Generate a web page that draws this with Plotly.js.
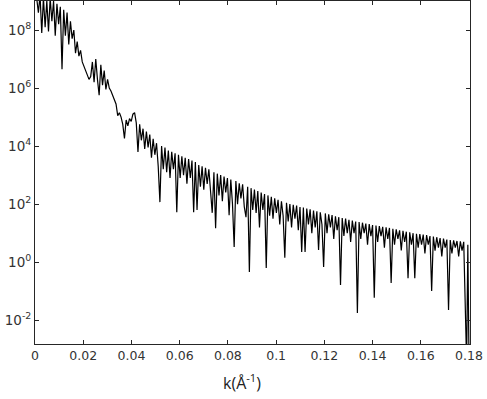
<!DOCTYPE html>
<html>
<head>
<meta charset="utf-8">
<script src="https://cdn.plot.ly/plotly-3.0.1.min.js"></script>
<style>
  body { margin: 0; background: #fff; }
  #plot { width: 487px; height: 399px; }
</style>
</head>
<body>
<div id="plot"></div>
<script>
// wave number k (1/Angstrom)
var k = [
  0, 0.0007, 0.0014, 0.0021, 0.0028, 0.0035, 0.0042, 0.0049, 0.0056, 0.0063,
  0.007, 0.0077, 0.0084, 0.0091, 0.0098, 0.0105, 0.0112, 0.0119, 0.0126, 0.0133,
  0.014, 0.0147, 0.0154, 0.0161, 0.0168, 0.0175, 0.0182, 0.0189, 0.0196, 0.0203,
  0.021, 0.0217, 0.0224, 0.0231, 0.0238, 0.0245, 0.0252, 0.0259, 0.0266, 0.0273,
  0.028, 0.0287, 0.0294, 0.0301, 0.0308, 0.0315, 0.0322, 0.0329, 0.0336, 0.0343,
  0.035, 0.0357, 0.0364, 0.0371, 0.0378, 0.0385, 0.0392, 0.0399, 0.0406, 0.0413,
  0.042, 0.0427, 0.0434, 0.0441, 0.0448, 0.0455, 0.0462, 0.0469, 0.0476, 0.0483,
  0.049, 0.0497, 0.0504, 0.0511, 0.0518, 0.0525, 0.0532, 0.0539, 0.0546, 0.0553,
  0.056, 0.0567, 0.0574, 0.0581, 0.0588, 0.0595, 0.0602, 0.0609, 0.0616, 0.0623,
  0.063, 0.0637, 0.0644, 0.0651, 0.0658, 0.0665, 0.0672, 0.0679, 0.0686, 0.0693,
  0.07, 0.0707, 0.0714, 0.0721, 0.0728, 0.0735, 0.0742, 0.0749, 0.0756, 0.0763,
  0.077, 0.0777, 0.0784, 0.0791, 0.0798, 0.0805, 0.0812, 0.0819, 0.0826, 0.0833,
  0.084, 0.0847, 0.0854, 0.0861, 0.0868, 0.0875, 0.0882, 0.0889, 0.0896, 0.0903,
  0.091, 0.0917, 0.0924, 0.0931, 0.0938, 0.0945, 0.0952, 0.0959, 0.0966, 0.0973,
  0.098, 0.0987, 0.0994, 0.1001, 0.1008, 0.1015, 0.1022, 0.1029, 0.1036, 0.1043,
  0.105, 0.1057, 0.1064, 0.1071, 0.1078, 0.1085, 0.1092, 0.1099, 0.1106, 0.1113,
  0.112, 0.1127, 0.1134, 0.1141, 0.1148, 0.1155, 0.1162, 0.1169, 0.1176, 0.1183,
  0.119, 0.1197, 0.1204, 0.1211, 0.1218, 0.1225, 0.1232, 0.1239, 0.1246, 0.1253,
  0.126, 0.1267, 0.1274, 0.1281, 0.1288, 0.1295, 0.1302, 0.1309, 0.1316, 0.1323,
  0.133, 0.1337, 0.1344, 0.1351, 0.1358, 0.1365, 0.1372, 0.1379, 0.1386, 0.1393,
  0.14, 0.1407, 0.1414, 0.1421, 0.1428, 0.1435, 0.1442, 0.1449, 0.1456, 0.1463,
  0.147, 0.1477, 0.1484, 0.1491, 0.1498, 0.1505, 0.1512, 0.1519, 0.1526, 0.1533,
  0.154, 0.1547, 0.1554, 0.1561, 0.1568, 0.1575, 0.1582, 0.1589, 0.1596, 0.1603,
  0.161, 0.1617, 0.1624, 0.1631, 0.1638, 0.1645, 0.1652, 0.1659, 0.1666, 0.1673,
  0.168, 0.1687, 0.1694, 0.1701, 0.1708, 0.1715, 0.1722, 0.1729, 0.1736, 0.1743,
  0.175, 0.1757, 0.1764, 0.1771, 0.1778, 0.1785, 0.179, 0.1795, 0.18
];

var logI = [
  9.3, 9.1, 8.6, 9.2, 7.9, 9.1, 8.1, 9.0, 7.95, 9.1,
  8.3, 9.0, 7.8, 8.9, 8.2, 8.8, 6.65, 8.7, 7.8, 8.6,
  7.5, 8.3, 7.7, 8.0, 7.2, 7.6, 7.1, 7.3, 6.9, 6.75,
  6.6, 6.4, 6.3, 6.4, 6.9, 6.2, 7.0, 6.3, 5.75, 6.8,
  6.1, 6.6, 5.95, 6.3, 6.0, 5.9, 5.75, 5.6, 5.45, 5.05,
  5.15, 5.0, 4.75, 4.26, 4.9, 4.7, 4.95, 4.85, 5.1, 5.15,
  4.8, 3.8, 4.75, 4.2, 4.6, 3.9, 4.5, 3.95, 4.4, 3.6,
  4.25, 3.7, 4.1, 3.3, 2.07, 4.0, 3.2, 3.95, 3.1, 3.85,
  2.9, 3.8, 3.2, 3.75, 1.72, 3.7, 2.9, 3.65, 3.0, 3.6,
  2.7, 3.55, 2.9, 3.5, 1.72, 3.45, 1.8, 3.35, 2.6, 3.3,
  2.5, 3.25, 2.7, 3.2, 2.4, 1.7, 3.1, 1.17, 3.05, 2.3,
  3.0, 2.1, 2.95, 2.4, 2.9, 1.62, 2.85, 2.0, 0.52, 2.8,
  2.0, 2.72, 2.2, 2.68, 1.9, 1.55, 2.6, -0.34, 2.55, 1.8,
  2.5, 1.7, 2.45, 1.2, 2.4, 1.8, 2.35, -0.2, 2.3, 1.6,
  2.25, 1.5, 2.2, 1.7, 2.15, 1.3, 2.1, 1.6, 0.15, 2.05,
  1.4, 2.0, 1.2, 1.98, 1.5, 1.95, 1.1, 1.9, 0.35, 1.88,
  0.35, 1.85, 1.3, 1.82, 1.0, 1.78, 1.2, 1.75, 0.42, 1.72,
  1.3, -0.17, 1.68, 1.0, 1.65, 1.2, 1.62, 0.8, 1.58, 1.1,
  1.55, -0.79, 1.52, 0.9, 1.5, 1.0, 1.46, 0.7, 1.43, 1.0,
  1.4, -1.75, 1.38, 0.8, 1.36, 1.0, 1.33, 0.6, 1.31, 0.9,
  1.28, -1.23, 1.26, 0.7, 1.24, 0.9, 1.22, 0.5, 1.2, 0.8,
  1.18, -0.72, 1.15, 0.6, 1.13, 0.8, 1.1, 0.4, 1.08, 0.7,
  1.05, -0.55, 1.03, 0.6, 1.0, -0.55, 0.98, 0.5, 0.97, 0.6,
  0.95, 0.3, 0.93, 0.6, 0.9, -0.99, 0.88, 0.4, 0.86, 0.5,
  0.83, 0.2, 0.81, 0.5, 0.78, -1.65, 0.76, 0.3, 0.75, 0.5,
  0.73, 0.2, 0.72, 0.4, 0.7, -1.9, -3.5, 0.6, -3.5
];

var yTicks = [1e-2, 1, 1e2, 1e4, 1e6, 1e8];
var yTickText = ['10<sup>-2</sup>', '10<sup>0</sup>', '10<sup>2</sup>',
                 '10<sup>4</sup>', '10<sup>6</sup>', '10<sup>8</sup>'];

var intensity = logI.map(v => Math.pow(10, v));

var trace = {
  x: k,
  y: intensity,
  type: 'scatter',
  mode: 'lines',
  line: {color: '#000', width: 1.2},
  hoverinfo: 'none'
};

var axisStyle = {
  showline: true,
  mirror: 'ticks',
  linecolor: '#262626',
  linewidth: 1,
  ticks: 'inside',
  ticklen: 4,
  tickcolor: '#262626',
  showgrid: false,
  zeroline: false
};

var layout = {
  width: 487,
  height: 399,
  margin: {l: 35, r: 17, t: 1, b: 55},
  paper_bgcolor: '#fff',
  plot_bgcolor: '#fff',
  showlegend: false,
  xaxis: Object.assign({}, axisStyle, {
    range: [0, 0.1804],
    tick0: 0,
    dtick: 0.02,
    tickfont: {family: 'DejaVu Sans', size: 12.5, color: '#333'}
  }),
  yaxis: Object.assign({}, axisStyle, {
    type: 'log',
    range: [-2.82, 9.0],
    tickvals: yTicks,
    ticktext: yTickText,
    tickfont: {family: 'DejaVu Sans', size: 13.5, color: '#333'}
  }),
  annotations: [{
    text: 'k(Å<sup>-1</sup>)',
    xref: 'paper', yref: 'paper',
    x: 0.476, y: -0.111,
    xanchor: 'center', yanchor: 'middle',
    showarrow: false,
    font: {family: 'Open Sans', size: 16, color: '#222'}
  }]
};

Plotly.newPlot('plot', [trace], layout, {staticPlot: true});
</script>
</body>
</html>
